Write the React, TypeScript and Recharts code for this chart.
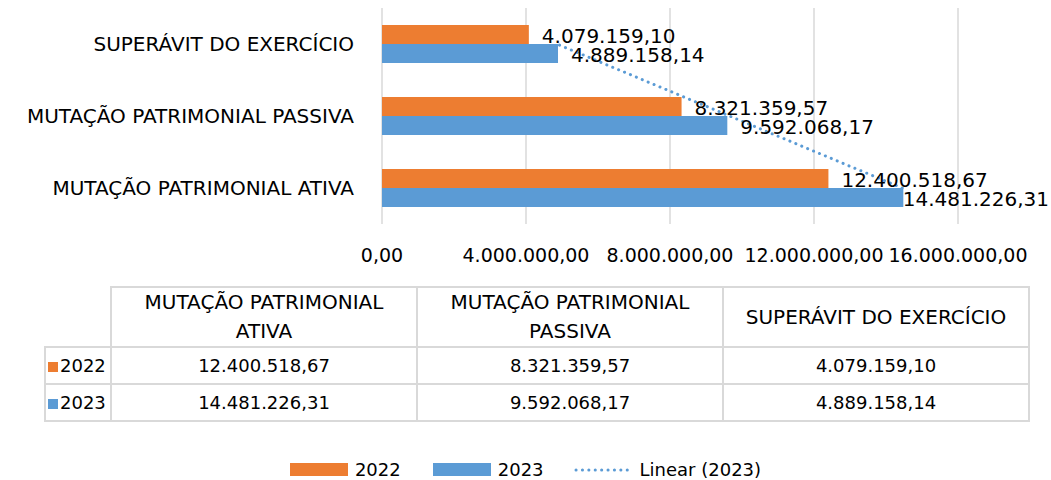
import React from "react"
import {
  Bar,
  CartesianGrid,
  ComposedChart,
  LabelList,
  Line,
  XAxis,
  YAxis
} from "recharts"

// chart values, in the order of the data table (bottom category first)
const categories = [
  "MUTAÇÃO PATRIMONIAL ATIVA",
  "MUTAÇÃO PATRIMONIAL PASSIVA",
  "SUPERÁVIT DO EXERCÍCIO"
]
const values2022 = [12400518.67, 8321359.57, 4079159.1]
const values2023 = [14481226.31, 9592068.17, 4889158.14]
const xTicks = [0, 4000000, 8000000, 12000000, 16000000]
const seriesNames = ["2022", "2023"]
const trendName = "Linear (2023)"

const ORANGE = "#ED7D31"
const BLUE = "#5B9BD5"
const GRID = "#d9d9d9"
const FONT = "'DejaVu Sans', sans-serif"
const CHART_W = 1051

// pt-BR number format: 12.400.518,67
const fmt = (v: number) => {
  const [i, d] = Number(v).toFixed(2).split(".")
  return i.replace(/\B(?=(\d{3})+(?!\d))/g, ".") + "," + d
}

// rough DejaVu Sans width of a formatted number
const textWidth = (s: string, size: number) =>
  s.split("").reduce((w, ch) => w + (/\d/.test(ch) ? 0.636 : 0.318) * size, 0)

// least squares fit over the category index, like the Excel trendline
const linearFit = (ys: number[]) => {
  const xs = ys.map((_, i) => i + 1)
  const mx = xs.reduce((a, b) => a + b, 0) / xs.length
  const my = ys.reduce((a, b) => a + b, 0) / ys.length
  let num = 0
  let den = 0
  xs.forEach((x, i) => {
    num += (x - mx) * (ys[i] - my)
    den += (x - mx) * (x - mx)
  })
  const slope = num / den
  return xs.map((x) => my + slope * (x - mx))
}
const trend2023 = linearFit(values2023)

const data = categories.map((name, i) => ({
  name,
  v2022: values2022[i],
  v2023: values2023[i],
  trend: trend2023[i]
}))

const XTick = (props: any) => {
  const { x, y, payload } = props
  return (
    <text x={x} y={y + 23} textAnchor="middle" dominantBaseline="central"
      fontSize={19} fontFamily={FONT} fill="#000">
      {fmt(payload.value)}
    </text>
  )
}

const YTick = (props: any) => {
  const { x, y, payload } = props
  return (
    <text x={x - 20} y={y} textAnchor="end" dominantBaseline="central"
      fontSize={20} fontFamily={FONT} fill="#000">
      {payload.value}
    </text>
  )
}

// value label to the right of the bar, pulled back when it would leave the chart
const ValueLabel = (props: any) => {
  const { x, y, width, height, value } = props
  const s = fmt(value)
  const lx = Math.min(x + width + 13, CHART_W - 2 - textWidth(s, 20))
  return (
    <text x={lx} y={y + height / 2 + 1} dominantBaseline="central"
      fontSize={20} fontFamily={FONT} fill="#000">
      {s}
    </text>
  )
}

const rowSeries = [
  { name: seriesNames[0], color: ORANGE, values: values2022 },
  { name: seriesNames[1], color: BLUE, values: values2023 }
]

const cell: React.CSSProperties = {
  border: `2px solid ${GRID}`,
  textAlign: "center",
  padding: "0 4px",
  fontSize: 18
}

const DataTable = () => (
  <table style={{
    position: "absolute", left: 44, top: 286, borderCollapse: "collapse",
    tableLayout: "fixed", fontFamily: FONT, color: "#000"
  }}>
    <colgroup>
      <col style={{ width: 66 }} />
      {categories.map((c) => <col key={c} style={{ width: 306 }} />)}
    </colgroup>
    <tbody>
      <tr style={{ height: 60 }}>
        <td style={{ ...cell, borderTop: "none", borderLeft: "none" }} />
        {categories.map((c) => (
          <td key={c} style={{ ...cell, fontSize: 20, lineHeight: "29px" }}>{c}</td>
        ))}
      </tr>
      {rowSeries.map((s) => (
        <tr key={s.name} style={{ height: 37 }}>
          <td style={{ ...cell, textAlign: "left", padding: "0 2px", whiteSpace: "nowrap" }}>
            <span style={{
              display: "inline-block", width: 10, height: 10, background: s.color,
              marginRight: 2
            }} />
            {s.name}
          </td>
          {s.values.map((v, i) => <td key={i} style={cell}>{fmt(v)}</td>)}
        </tr>
      ))}
    </tbody>
  </table>
)

const LegendRow = () => (
  <div style={{
    position: "absolute", left: 0, top: 459, width: CHART_W, display: "flex",
    justifyContent: "center", alignItems: "center", fontFamily: FONT, fontSize: 18,
    color: "#000"
  }}>
    <span style={{ width: 58, height: 13, background: ORANGE, marginRight: 7 }} />
    <span style={{ marginRight: 32 }}>{seriesNames[0]}</span>
    <span style={{ width: 58, height: 13, background: BLUE, marginRight: 7 }} />
    <span style={{ marginRight: 30 }}>{seriesNames[1]}</span>
    <svg width={57} height={8} style={{ marginRight: 9 }}>
      <line x1={2} y1={4} x2={56} y2={4} stroke={BLUE} strokeWidth={3}
        strokeDasharray="0.1 6.3" strokeLinecap="round" />
    </svg>
    <span>{trendName}</span>
  </div>
)

export default function App() {
  return (
    <div style={{
      position: "absolute", left: 0, top: 0, width: CHART_W, height: 480,
      background: "#fff", overflow: "hidden"
    }}>
      <ComposedChart
        width={CHART_W}
        height={270}
        data={data}
        layout="vertical"
        margin={{ top: 8, right: 93, bottom: 0, left: 0 }}
        barGap={0}
        barSize={19}
      >
        <CartesianGrid horizontal={false} stroke={GRID} strokeWidth={1.5} />
        <XAxis
          type="number"
          domain={[0, 16000000]}
          ticks={xTicks}
          interval={0}
          axisLine={false}
          tickLine={false}
          height={46}
          tick={<XTick />}
        />
        <YAxis
          type="category"
          dataKey="name"
          reversed
          width={382}
          interval={0}
          axisLine={false}
          tickLine={false}
          tick={<YTick />}
        />
        <Bar dataKey="v2022" name={seriesNames[0]} fill={ORANGE} isAnimationActive={false}>
          <LabelList dataKey="v2022" content={<ValueLabel />} />
        </Bar>
        <Bar dataKey="v2023" name={seriesNames[1]} fill={BLUE} isAnimationActive={false}>
          <LabelList dataKey="v2023" content={<ValueLabel />} />
        </Bar>
        <Line
          dataKey="trend"
          name={trendName}
          stroke={BLUE}
          strokeWidth={3}
          strokeDasharray="0.1 6.3"
          strokeLinecap="round"
          dot={false}
          activeDot={false}
          isAnimationActive={false}
        />
      </ComposedChart>
      <DataTable />
      <LegendRow />
    </div>
  )
}
